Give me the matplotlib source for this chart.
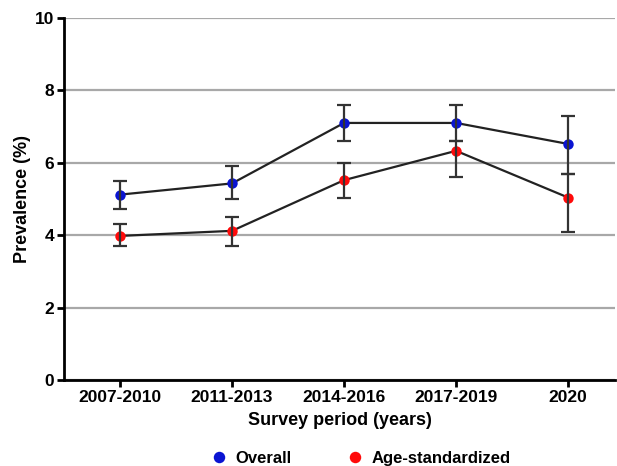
import matplotlib.pyplot as plt

# periodos de encuesta y prevalencias
PERIODOS = ["2007-2010", "2011-2013", "2014-2016", "2017-2019", "2020"]

OVERALL = [5.12, 5.43, 7.1, 7.1, 6.52]
OVERALL_LO = [4.72, 5.0, 6.6, 6.6, 5.7]
OVERALL_HI = [5.5, 5.9, 7.6, 7.6, 7.3]

AGE_STD = [3.98, 4.12, 5.52, 6.33, 5.04]
AGE_STD_LO = [3.7, 3.7, 5.02, 5.6, 4.1]
AGE_STD_HI = [4.3, 4.5, 6.0, 6.6, 5.69]

Y_TICKS = [0, 2, 4, 6, 8, 10]

plt.rcParams["font.family"] = ["Liberation Sans", "DejaVu Sans"]
plt.rcParams["font.weight"] = "bold"

fig = plt.figure(figsize=(6.17, 4.66), dpi=100)
ax = fig.add_axes([0.1037, 0.1845, 0.8933, 0.777])

x = list(range(len(PERIODOS)))

handles = []
for vals, lo, hi, color, label in [
    (OVERALL, OVERALL_LO, OVERALL_HI, "#0a14d2", "Overall"),
    (AGE_STD, AGE_STD_LO, AGE_STD_HI, "#ff0a0a", "Age-standardized"),
]:
    err = [[v - l for v, l in zip(vals, lo)], [h - v for v, h in zip(vals, hi)]]
    ax.plot(x, vals, color="#222222", lw=1.6, zorder=3)
    h, = ax.plot(x, vals, "o", color=color, markersize=7.5, zorder=4,
                 label=label, markeredgewidth=0)
    handles.append(h)
    ax.errorbar(x, vals, yerr=err, fmt="none", ecolor="#333333",
                elinewidth=1.6, capsize=5, capthick=1.6, zorder=5)

ax.set_xlim(-0.5, 4.42)
ax.set_ylim(0, 10)
ax.set_yticks(Y_TICKS)
ax.set_xticks(x)
ax.set_xticklabels(PERIODOS)
ax.yaxis.grid(True, color="#a8a8a8", lw=1.6)
ax.set_axisbelow(True)

for s in ["top", "right"]:
    ax.spines[s].set_visible(False)
for s in ["left", "bottom"]:
    ax.spines[s].set_linewidth(2)
ax.tick_params(axis="both", direction="out", width=2, length=5,
               labelsize=12.5, pad=2)

ax.set_xlabel("Survey period (years)", fontsize=13, fontweight="bold",
              labelpad=5)
ax.set_ylabel("Prevalence (%)", fontsize=13, fontweight="bold",
              labelpad=3)

fig.legend(handles=handles, loc="center", bbox_to_anchor=(0.585, 0.017),
           ncol=2, frameon=False, fontsize=12, handlelength=1,
           handletextpad=0.5, columnspacing=3.3, borderpad=0,
           markerscale=1.1)

fig.savefig("out.png", dpi=100)
